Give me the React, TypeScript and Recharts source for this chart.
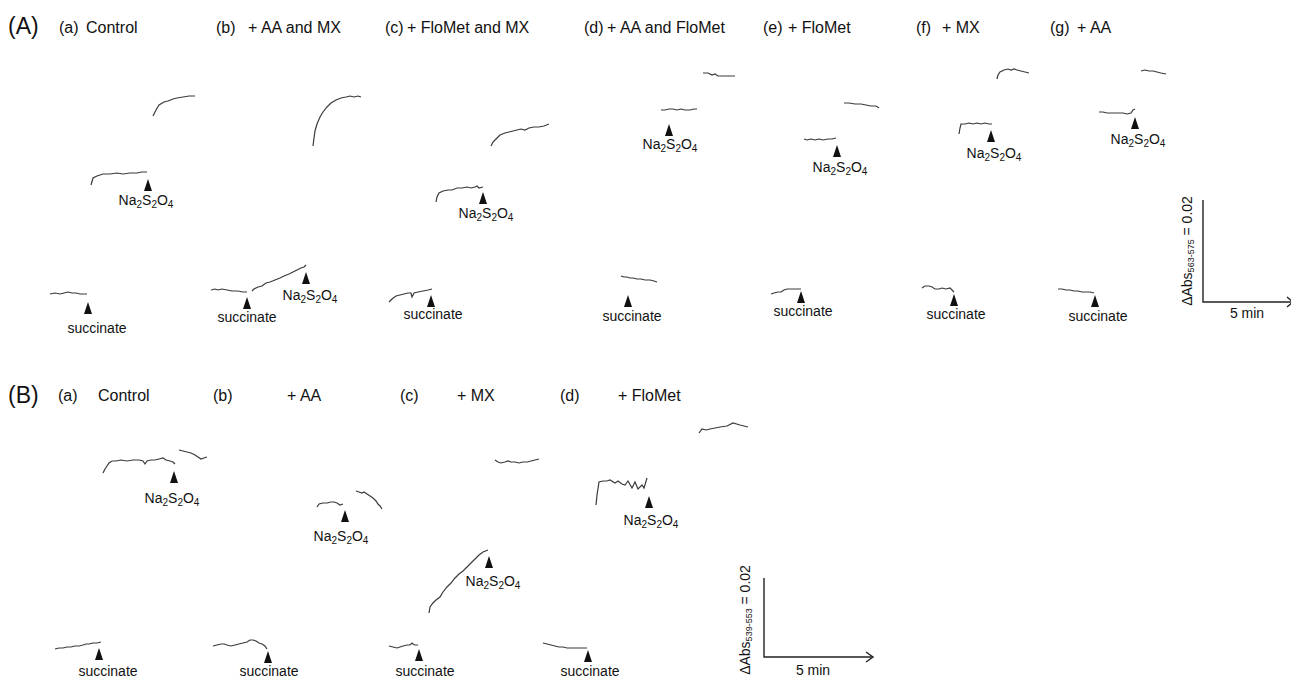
import { ComposedChart, Line, Scatter, XAxis, YAxis } from 'recharts'

// figure space: x 0..1291, y 0..679 (y grows downward)
const W = 1291
const H = 679

// ---- panel A traces ----
const aCtrlUpper = [
  { x: 153, y: 116 }, { x: 156, y: 110 }, { x: 159, y: 105 }, { x: 164, y: 102 }, { x: 168, y: 101 },
  { x: 173, y: 99 }, { x: 177, y: 98 }, { x: 183, y: 97 }, { x: 189, y: 96 }, { x: 195, y: 96 },
]
const aCtrlMid = [
  { x: 91, y: 185 }, { x: 93, y: 178 }, { x: 97, y: 176 }, { x: 103, y: 174 }, { x: 110, y: 174 },
  { x: 117, y: 173 }, { x: 123, y: 174 }, { x: 130, y: 173 }, { x: 137, y: 173 }, { x: 142, y: 172 },
  { x: 147, y: 172 },
]
const aCtrlLow = [
  { x: 50, y: 294 }, { x: 55, y: 293 }, { x: 60, y: 294 }, { x: 64, y: 293 }, { x: 68, y: 292 },
  { x: 72, y: 293 }, { x: 76, y: 293 }, { x: 80, y: 294 }, { x: 84, y: 294 }, { x: 87, y: 294 },
]
const aAaMxUpper = [
  { x: 313, y: 146 }, { x: 314, y: 138 }, { x: 315, y: 131 }, { x: 317, y: 124 }, { x: 320, y: 117 },
  { x: 323, y: 112 }, { x: 327, y: 107 }, { x: 331, y: 103 }, { x: 336, y: 100 }, { x: 341, y: 98 },
  { x: 346, y: 97 }, { x: 350, y: 96 }, { x: 354, y: 97 }, { x: 358, y: 96 }, { x: 361, y: 97 },
]
const aAaMxLow1 = [
  { x: 211, y: 290 }, { x: 215, y: 289 }, { x: 218, y: 290 }, { x: 222, y: 289 }, { x: 227, y: 290 },
  { x: 232, y: 291 }, { x: 238, y: 291 }, { x: 243, y: 292 }, { x: 247, y: 292 },
]
const aAaMxLow2 = [
  { x: 252, y: 291 }, { x: 254, y: 289 }, { x: 258, y: 287 }, { x: 262, y: 286 }, { x: 266, y: 283 },
  { x: 270, y: 282 }, { x: 275, y: 280 }, { x: 280, y: 278 }, { x: 284, y: 276 }, { x: 289, y: 274 },
  { x: 293, y: 272 }, { x: 297, y: 270 }, { x: 301, y: 268 }, { x: 304, y: 267 }, { x: 306, y: 265 },
]
const aFloMxUpper = [
  { x: 491, y: 146 }, { x: 493, y: 142 }, { x: 496, y: 139 }, { x: 500, y: 135 }, { x: 505, y: 133 },
  { x: 509, y: 132 }, { x: 513, y: 131 }, { x: 517, y: 130 }, { x: 521, y: 129 }, { x: 525, y: 130 },
  { x: 529, y: 128 }, { x: 534, y: 127 }, { x: 539, y: 127 }, { x: 544, y: 126 }, { x: 549, y: 124 },
]
const aFloMxMid = [
  { x: 436, y: 202 }, { x: 437, y: 197 }, { x: 439, y: 193 }, { x: 443, y: 191 }, { x: 448, y: 190 },
  { x: 452, y: 190 }, { x: 457, y: 188 }, { x: 462, y: 188 }, { x: 467, y: 187 }, { x: 471, y: 188 },
  { x: 475, y: 187 }, { x: 477, y: 186 }, { x: 479, y: 188 }, { x: 483, y: 187 },
]
const aFloMxLow = [
  { x: 389, y: 302 }, { x: 392, y: 299 }, { x: 396, y: 296 }, { x: 400, y: 295 }, { x: 404, y: 294 },
  { x: 408, y: 293 }, { x: 411, y: 293 }, { x: 412, y: 297 }, { x: 414, y: 293 }, { x: 418, y: 292 },
  { x: 423, y: 291 }, { x: 428, y: 290 }, { x: 432, y: 289 },
]
const aAaFloTop = [
  { x: 703, y: 73 }, { x: 708, y: 73 }, { x: 712, y: 75 }, { x: 715, y: 74 }, { x: 718, y: 76 },
  { x: 723, y: 76 }, { x: 729, y: 76 }, { x: 735, y: 76 },
]
const aAaFloMid = [
  { x: 661, y: 110 }, { x: 665, y: 110 }, { x: 669, y: 109 }, { x: 673, y: 109 }, { x: 677, y: 110 },
  { x: 681, y: 109 }, { x: 685, y: 110 }, { x: 690, y: 110 }, { x: 694, y: 109 }, { x: 697, y: 109 },
]
const aAaFloLow = [
  { x: 621, y: 276 }, { x: 624, y: 277 }, { x: 627, y: 277 }, { x: 630, y: 278 }, { x: 633, y: 278 },
  { x: 637, y: 279 }, { x: 641, y: 279 }, { x: 645, y: 280 }, { x: 650, y: 280 }, { x: 654, y: 281 },
  { x: 657, y: 282 },
]
const aFloTop = [
  { x: 844, y: 103 }, { x: 849, y: 103 }, { x: 855, y: 104 }, { x: 861, y: 104 }, { x: 866, y: 105 },
  { x: 871, y: 106 }, { x: 876, y: 106 }, { x: 879, y: 108 },
]
const aFloMid = [
  { x: 804, y: 139 }, { x: 807, y: 140 }, { x: 811, y: 139 }, { x: 815, y: 140 }, { x: 819, y: 139 },
  { x: 823, y: 140 }, { x: 828, y: 139 }, { x: 832, y: 139 }, { x: 836, y: 138 },
]
const aFloLow = [
  { x: 771, y: 294 }, { x: 774, y: 293 }, { x: 778, y: 292 }, { x: 781, y: 292 }, { x: 784, y: 290 },
  { x: 787, y: 289 }, { x: 791, y: 289 }, { x: 795, y: 289 }, { x: 798, y: 289 }, { x: 801, y: 289 },
]
const aMxTop = [
  { x: 997, y: 79 }, { x: 998, y: 75 }, { x: 1000, y: 72 }, { x: 1004, y: 70 }, { x: 1008, y: 69 },
  { x: 1011, y: 70 }, { x: 1014, y: 69 }, { x: 1017, y: 70 }, { x: 1021, y: 71 }, { x: 1025, y: 72 },
  { x: 1029, y: 73 },
]
const aMxMid = [
  { x: 959, y: 134 }, { x: 960, y: 128 }, { x: 961, y: 124 }, { x: 965, y: 124 }, { x: 969, y: 123 },
  { x: 973, y: 124 }, { x: 977, y: 123 }, { x: 981, y: 124 }, { x: 985, y: 123 }, { x: 989, y: 124 },
  { x: 992, y: 124 },
]
const aMxLow = [
  { x: 922, y: 288 }, { x: 925, y: 286 }, { x: 929, y: 286 }, { x: 932, y: 287 }, { x: 935, y: 289 },
  { x: 939, y: 289 }, { x: 942, y: 288 }, { x: 946, y: 289 }, { x: 950, y: 288 }, { x: 952, y: 290 },
  { x: 954, y: 292 },
]
const aAaTop = [
  { x: 1141, y: 71 }, { x: 1145, y: 70 }, { x: 1149, y: 71 }, { x: 1153, y: 71 }, { x: 1157, y: 72 },
  { x: 1161, y: 73 }, { x: 1166, y: 74 },
]
const aAaMid = [
  { x: 1099, y: 112 }, { x: 1103, y: 112 }, { x: 1107, y: 113 }, { x: 1111, y: 113 }, { x: 1115, y: 113 },
  { x: 1119, y: 113 }, { x: 1123, y: 113 }, { x: 1127, y: 114 }, { x: 1131, y: 113 }, { x: 1133, y: 110 },
  { x: 1135, y: 109 },
]
const aAaLow = [
  { x: 1058, y: 289 }, { x: 1062, y: 289 }, { x: 1066, y: 290 }, { x: 1070, y: 290 }, { x: 1074, y: 291 },
  { x: 1078, y: 291 }, { x: 1082, y: 292 }, { x: 1086, y: 292 }, { x: 1090, y: 292 }, { x: 1094, y: 293 },
]

// ---- panel B traces ----
const bCtrlUpper = [
  { x: 103, y: 473 }, { x: 105, y: 469 }, { x: 107, y: 466 }, { x: 109, y: 463 }, { x: 112, y: 461 },
  { x: 116, y: 461 }, { x: 121, y: 460 }, { x: 127, y: 461 }, { x: 133, y: 460 }, { x: 139, y: 460 },
  { x: 143, y: 461 }, { x: 145, y: 464 }, { x: 147, y: 461 }, { x: 151, y: 460 }, { x: 155, y: 460 },
  { x: 159, y: 459 }, { x: 163, y: 458 }, { x: 166, y: 460 }, { x: 170, y: 461 }, { x: 173, y: 462 },
  { x: 175, y: 464 },
]
const bCtrlAfter = [
  { x: 179, y: 450 }, { x: 183, y: 451 }, { x: 187, y: 452 }, { x: 191, y: 453 }, { x: 195, y: 455 },
  { x: 198, y: 457 }, { x: 201, y: 459 }, { x: 204, y: 458 }, { x: 207, y: 457 },
]
const bCtrlLow = [
  { x: 55, y: 649 }, { x: 59, y: 648 }, { x: 63, y: 648 }, { x: 67, y: 647 }, { x: 71, y: 647 },
  { x: 75, y: 646 }, { x: 79, y: 646 }, { x: 83, y: 645 }, { x: 86, y: 644 }, { x: 89, y: 644 },
  { x: 93, y: 643 }, { x: 97, y: 643 }, { x: 101, y: 642 },
]
const bAaUpper = [
  { x: 317, y: 507 }, { x: 319, y: 504 }, { x: 323, y: 503 }, { x: 327, y: 503 }, { x: 331, y: 502 },
  { x: 334, y: 502 }, { x: 337, y: 503 }, { x: 340, y: 505 }, { x: 343, y: 504 },
]
const bAaAfter = [
  { x: 356, y: 491 }, { x: 359, y: 492 }, { x: 362, y: 493 }, { x: 364, y: 492 }, { x: 367, y: 494 },
  { x: 370, y: 496 }, { x: 373, y: 498 }, { x: 376, y: 501 }, { x: 378, y: 504 }, { x: 380, y: 506 },
  { x: 382, y: 509 },
]
const bAaLow = [
  { x: 213, y: 646 }, { x: 217, y: 645 }, { x: 221, y: 644 }, { x: 224, y: 644 }, { x: 227, y: 645 },
  { x: 231, y: 646 }, { x: 235, y: 645 }, { x: 239, y: 644 }, { x: 243, y: 643 }, { x: 247, y: 642 },
  { x: 250, y: 640 }, { x: 253, y: 640 }, { x: 256, y: 641 }, { x: 259, y: 643 }, { x: 262, y: 644 },
  { x: 265, y: 646 }, { x: 267, y: 649 },
]
const bMxTop = [
  { x: 495, y: 460 }, { x: 498, y: 462 }, { x: 501, y: 463 }, { x: 505, y: 462 }, { x: 508, y: 461 },
  { x: 511, y: 462 }, { x: 515, y: 462 }, { x: 519, y: 463 }, { x: 523, y: 462 }, { x: 527, y: 462 },
  { x: 531, y: 461 }, { x: 535, y: 460 }, { x: 539, y: 459 },
]
const bMxMid = [
  { x: 429, y: 613 }, { x: 430, y: 607 }, { x: 433, y: 603 }, { x: 436, y: 600 }, { x: 440, y: 597 },
  { x: 443, y: 592 }, { x: 447, y: 587 }, { x: 451, y: 583 }, { x: 455, y: 578 }, { x: 459, y: 574 },
  { x: 463, y: 571 }, { x: 467, y: 567 }, { x: 471, y: 563 }, { x: 475, y: 559 }, { x: 479, y: 555 },
  { x: 483, y: 552 }, { x: 488, y: 550 },
]
const bMxLow = [
  { x: 389, y: 646 }, { x: 393, y: 647 }, { x: 397, y: 648 }, { x: 400, y: 647 }, { x: 403, y: 646 },
  { x: 407, y: 645 }, { x: 410, y: 645 }, { x: 412, y: 643 }, { x: 413, y: 644 }, { x: 415, y: 645 },
  { x: 418, y: 645 },
]
const bFloTop = [
  { x: 699, y: 433 }, { x: 702, y: 429 }, { x: 706, y: 430 }, { x: 710, y: 429 }, { x: 715, y: 428 },
  { x: 720, y: 427 }, { x: 727, y: 426 }, { x: 733, y: 423 }, { x: 740, y: 425 }, { x: 748, y: 427 },
]
const bFloMid = [
  { x: 596, y: 505 }, { x: 597, y: 495 }, { x: 599, y: 482 }, { x: 603, y: 481 }, { x: 607, y: 481 },
  { x: 610, y: 480 }, { x: 615, y: 483 }, { x: 618, y: 481 }, { x: 622, y: 484 }, { x: 625, y: 485 },
  { x: 628, y: 481 }, { x: 632, y: 488 }, { x: 635, y: 482 }, { x: 638, y: 489 }, { x: 642, y: 485 },
  { x: 644, y: 488 }, { x: 647, y: 478 },
]
const bFloLow = [
  { x: 543, y: 643 }, { x: 547, y: 644 }, { x: 551, y: 645 }, { x: 555, y: 646 }, { x: 559, y: 647 },
  { x: 563, y: 647 }, { x: 567, y: 648 }, { x: 573, y: 648 }, { x: 579, y: 648 }, { x: 583, y: 648 },
  { x: 587, y: 648 },
]

// scale bars
const scaleA = [{ x: 1203, y: 200 }, { x: 1203, y: 302 }, { x: 1293, y: 302 }]
const scaleAHead = [{ x: 1287, y: 297 }, { x: 1293, y: 302 }, { x: 1287, y: 307 }]
const scaleB = [{ x: 764, y: 578 }, { x: 764, y: 657 }, { x: 873, y: 657 }]
const scaleBHead = [{ x: 866, y: 652 }, { x: 873, y: 657 }, { x: 866, y: 662 }]

const traces = [
  aCtrlUpper, aCtrlMid, aCtrlLow, aAaMxUpper, aAaMxLow1, aAaMxLow2, aFloMxUpper, aFloMxMid, aFloMxLow,
  aAaFloTop, aAaFloMid, aAaFloLow, aFloTop, aFloMid, aFloLow, aMxTop, aMxMid, aMxLow, aAaTop, aAaMid, aAaLow,
  bCtrlUpper, bCtrlAfter, bCtrlLow, bAaUpper, bAaAfter, bAaLow, bMxTop, bMxMid, bMxLow, bFloTop, bFloMid, bFloLow,
]
const axes = [scaleA, scaleAHead, scaleB, scaleBHead]

// addition marks (arrowheads)
const arrows = [
  { x: 148, y: 185 }, { x: 88, y: 308 }, { x: 247, y: 303 }, { x: 306, y: 278 }, { x: 483, y: 198 },
  { x: 431, y: 301 }, { x: 669, y: 130 }, { x: 628, y: 301 }, { x: 837, y: 151 }, { x: 801, y: 297 },
  { x: 991, y: 136 }, { x: 954, y: 300 }, { x: 1135, y: 123 }, { x: 1095, y: 301 },
  { x: 174, y: 477 }, { x: 99, y: 654 }, { x: 345, y: 516 }, { x: 268, y: 657 }, { x: 489, y: 562 },
  { x: 419, y: 655 }, { x: 649, y: 502 }, { x: 588, y: 656 },
]

const naLabels = [
  { x: 146, y: 200 }, { x: 310, y: 295 }, { x: 486, y: 213 }, { x: 670, y: 144 }, { x: 840, y: 167 },
  { x: 994, y: 153 }, { x: 1138, y: 139 },
  { x: 172, y: 498 }, { x: 341, y: 536 }, { x: 493, y: 581 }, { x: 651, y: 520 },
]
const succLabels = [
  { x: 97, y: 328 }, { x: 247, y: 317 }, { x: 433, y: 314 }, { x: 632, y: 316 }, { x: 803, y: 311 },
  { x: 956, y: 314 }, { x: 1098, y: 316 },
  { x: 108, y: 671 }, { x: 269, y: 671 }, { x: 425, y: 671 }, { x: 590, y: 671 },
]

const panelLetters = [
  { x: 8, y: 26, text: '(A)' },
  { x: 8, y: 395, text: '(B)' },
]
const titles = [
  { x: 59, y: 27, text: '(a)' }, { x: 86, y: 27, text: 'Control' },
  { x: 216, y: 27, text: '(b)' }, { x: 248, y: 27, text: '+ AA and MX' },
  { x: 385, y: 27, text: '(c)' }, { x: 407, y: 27, text: '+ FloMet and MX' },
  { x: 584, y: 27, text: '(d)' }, { x: 607, y: 27, text: '+ AA and FloMet' },
  { x: 763, y: 27, text: '(e)' }, { x: 788, y: 27, text: '+ FloMet' },
  { x: 916, y: 27, text: '(f)' }, { x: 942, y: 27, text: '+ MX' },
  { x: 1050, y: 27, text: '(g)' }, { x: 1077, y: 27, text: '+ AA' },
  { x: 58, y: 395, text: '(a)' }, { x: 98, y: 395, text: 'Control' },
  { x: 213, y: 395, text: '(b)' }, { x: 287, y: 395, text: '+ AA' },
  { x: 400, y: 395, text: '(c)' }, { x: 457, y: 395, text: '+ MX' },
  { x: 560, y: 395, text: '(d)' }, { x: 618, y: 395, text: '+ FloMet' },
]
const minLabels = [
  { x: 1247, y: 313, text: '5 min' },
  { x: 813, y: 670, text: '5 min' },
]
const absLabels = [
  { x: 1187, y: 251, sub: '563-575' },
  { x: 745, y: 620, sub: '539-553' },
]

const INK = '#111'
const TRACE = '#3a3a3a'

const ArrowHead = (p: any) => {
  const { cx, cy } = p
  if (cx == null) return null
  return <polygon points={`${cx},${cy - 6} ${cx - 4},${cy + 6} ${cx + 4},${cy + 6}`} fill={INK} />
}

const NaText = (p: any) => {
  const { cx, cy } = p
  if (cx == null) return null
  return (
    <text x={cx} y={cy} textAnchor="middle" dominantBaseline="central" fontSize={14} fill={INK}>
      Na<tspan dy={4} fontSize={10}>2</tspan>
      <tspan dy={-4}>S</tspan><tspan dy={4} fontSize={10}>2</tspan>
      <tspan dy={-4}>O</tspan><tspan dy={4} fontSize={10}>4</tspan>
    </text>
  )
}

const plainText = (size: number, anchor: 'start' | 'middle') => (p: any) => {
  const { cx, cy, payload } = p
  if (cx == null) return null
  return (
    <text x={cx} y={cy} textAnchor={anchor} dominantBaseline="central" fontSize={size} fill={INK}>
      {payload.text ?? 'succinate'}
    </text>
  )
}

const AbsText = (p: any) => {
  const { cx, cy, payload } = p
  if (cx == null) return null
  return (
    <text
      x={cx}
      y={cy}
      transform={`rotate(-90 ${cx} ${cy})`}
      textAnchor="middle"
      dominantBaseline="central"
      fontSize={14}
      fill={INK}
    >
      ΔAbs<tspan dy={4} fontSize={9}>{payload.sub}</tspan>
      <tspan dy={-4}> = 0.02</tspan>
    </text>
  )
}

export default function App() {
  return (
    <div
      style={{
        position: 'absolute',
        left: 0,
        top: 0,
        width: W,
        height: H,
        background: '#fff',
        fontFamily: '"Liberation Sans", Arial, sans-serif',
      }}
    >
      <ComposedChart width={W} height={H} margin={{ top: 0, right: 0, bottom: 0, left: 0 }}>
        <XAxis type="number" dataKey="x" domain={[0, W]} hide allowDataOverflow />
        <YAxis type="number" dataKey="y" domain={[0, H]} reversed hide allowDataOverflow />
        {traces.map((t, i) => (
          <Line
            key={`t${i}`}
            data={t}
            dataKey="y"
            type="linear"
            stroke={TRACE}
            strokeWidth={1.2}
            dot={false}
            activeDot={false}
            isAnimationActive={false}
          />
        ))}
        {axes.map((t, i) => (
          <Line
            key={`s${i}`}
            data={t}
            dataKey="y"
            type="linear"
            stroke="#222"
            strokeWidth={1.4}
            dot={false}
            activeDot={false}
            isAnimationActive={false}
          />
        ))}
        <Scatter data={arrows} dataKey="y" shape={ArrowHead} isAnimationActive={false} />
        <Scatter data={naLabels} dataKey="y" shape={NaText} isAnimationActive={false} />
        <Scatter data={succLabels} dataKey="y" shape={plainText(14, 'middle')} isAnimationActive={false} />
        <Scatter data={titles} dataKey="y" shape={plainText(16, 'start')} isAnimationActive={false} />
        <Scatter data={panelLetters} dataKey="y" shape={plainText(23, 'start')} isAnimationActive={false} />
        <Scatter data={minLabels} dataKey="y" shape={plainText(14, 'middle')} isAnimationActive={false} />
        <Scatter data={absLabels} dataKey="y" shape={AbsText} isAnimationActive={false} />
      </ComposedChart>
    </div>
  )
}
